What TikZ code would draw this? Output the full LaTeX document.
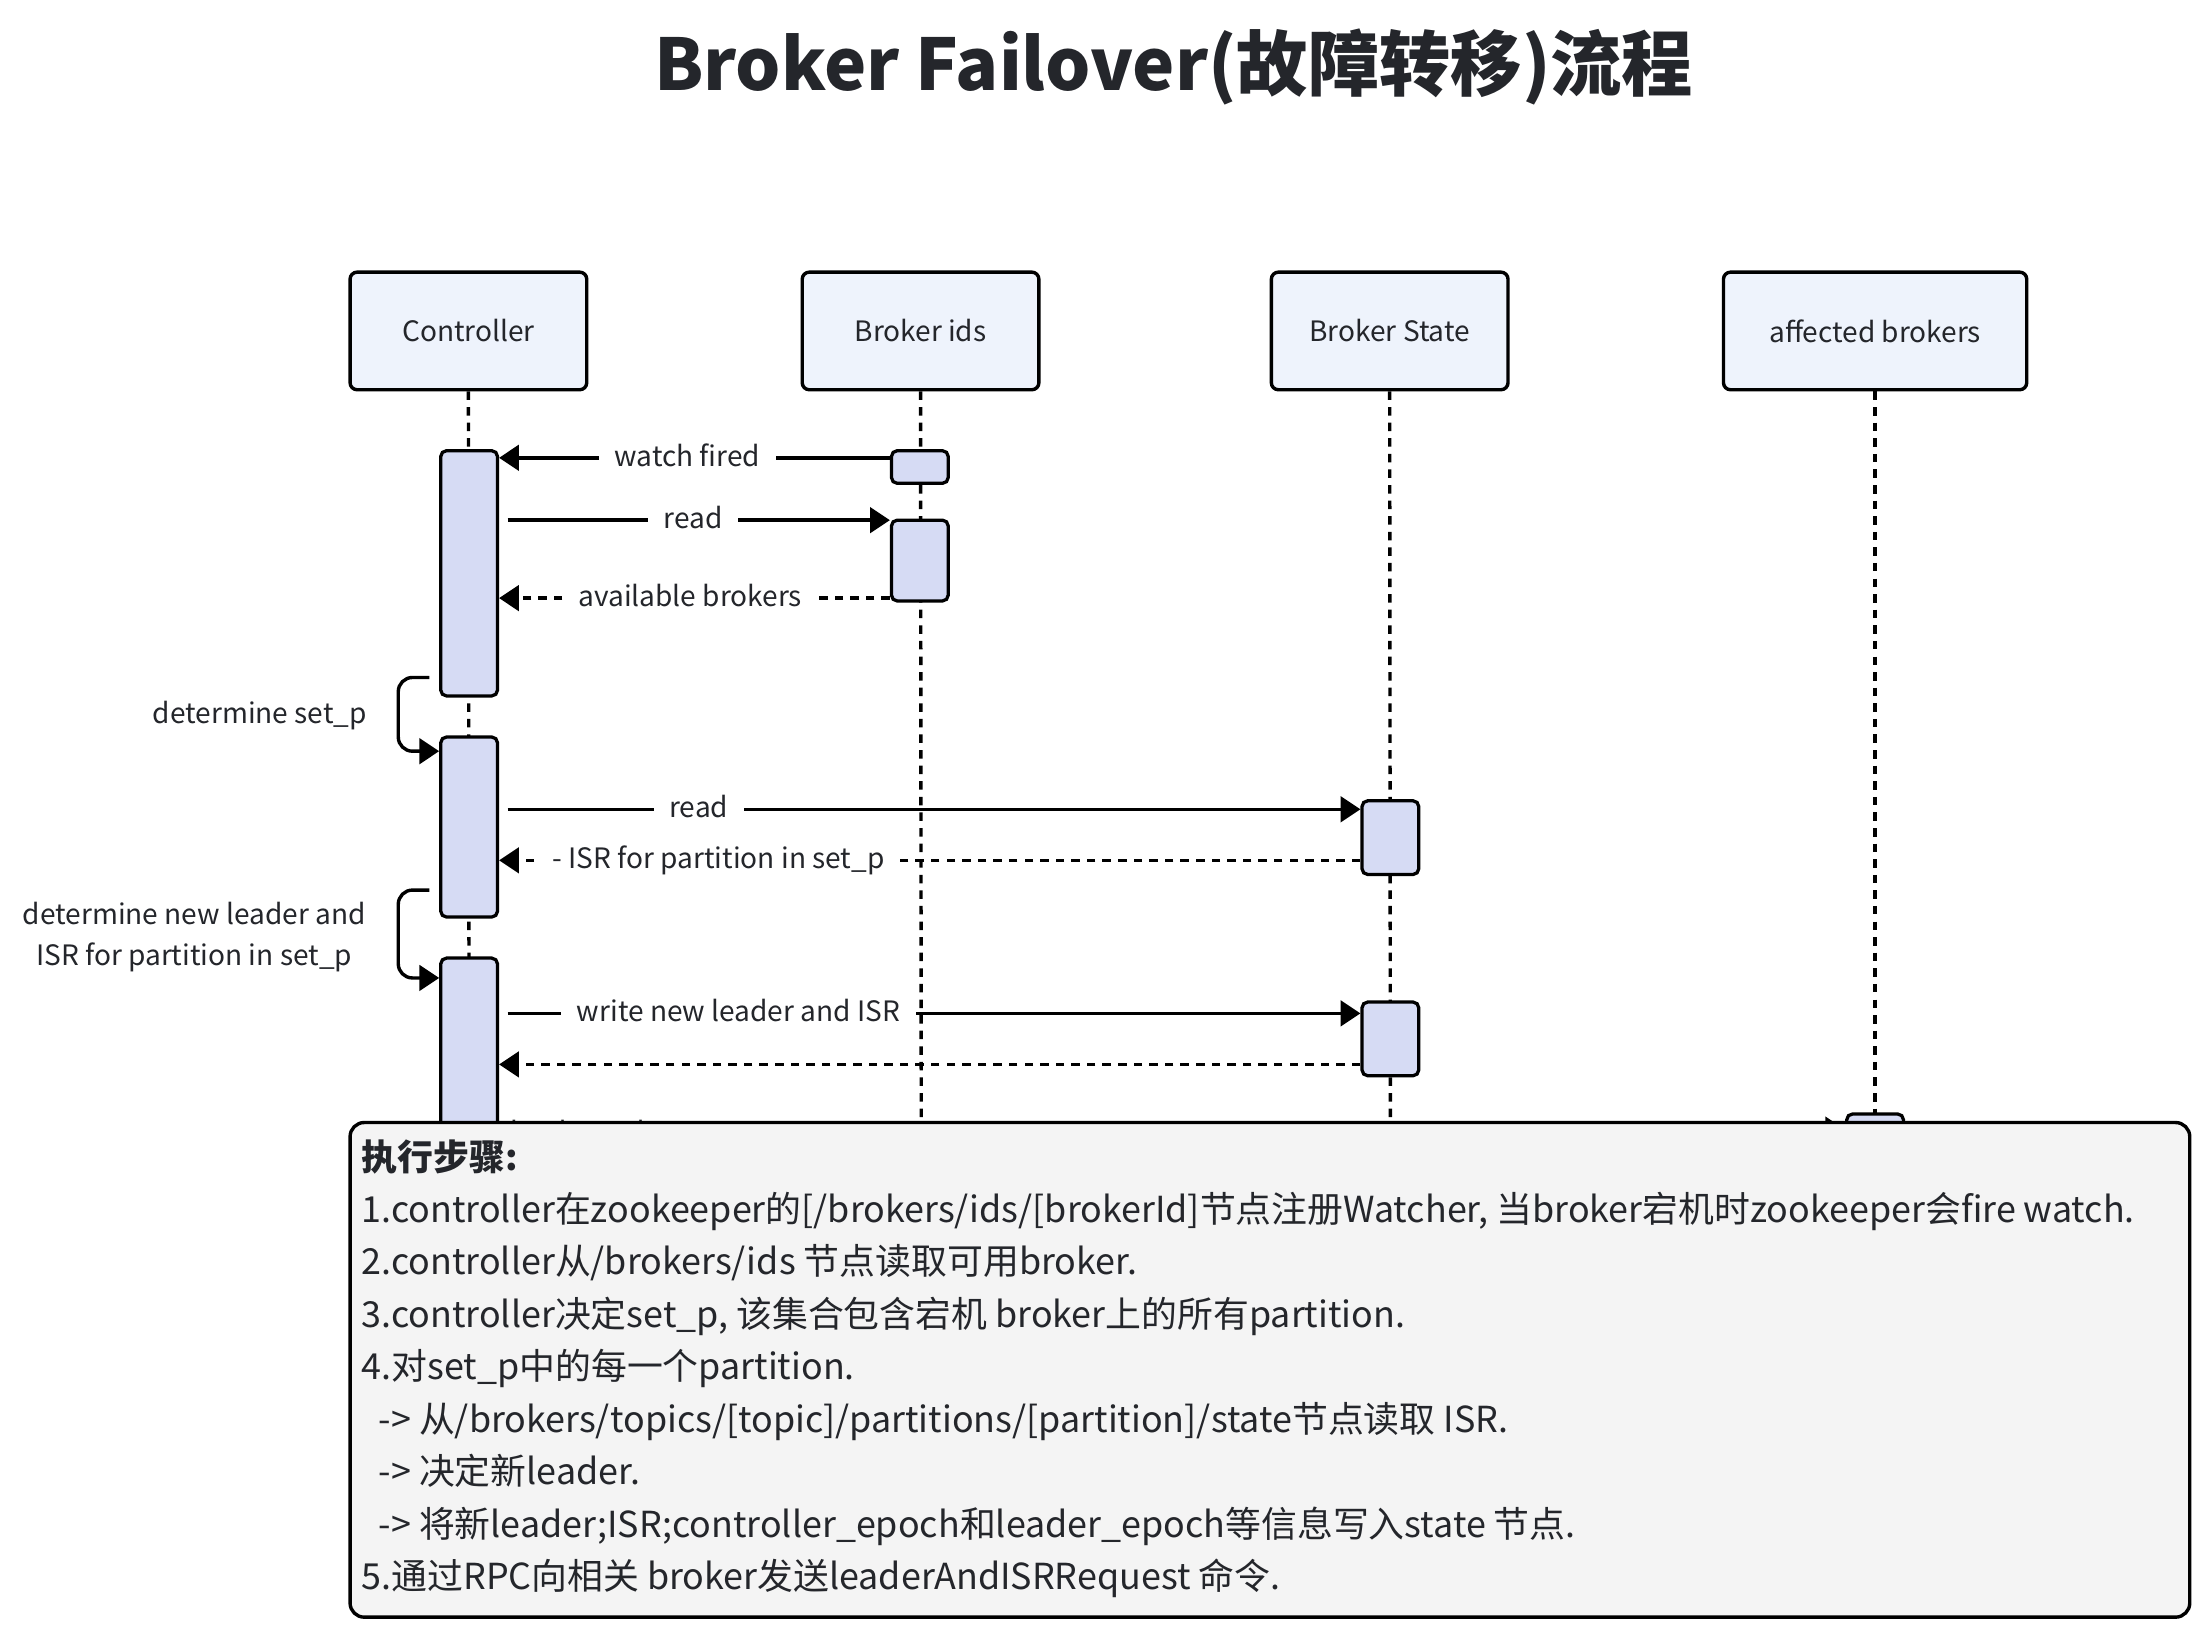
\documentclass[tikz,border=0pt]{standalone}
\usepackage{fontspec}
\setmainfont{Noto Sans CJK SC}
\usetikzlibrary{arrows.meta}
\definecolor{txt}{HTML}{24262B}
\definecolor{headfill}{HTML}{EEF3FC}
\definecolor{actfill}{HTML}{D6DBF4}
\definecolor{notefill}{HTML}{F4F4F4}
\tikzset{
  head/.style={draw=black, line width=2.4pt, fill=headfill, rounded corners=5pt,
    minimum width=167pt, minimum height=83pt, inner sep=0pt,
    font=\fontsize{19.8}{24}\selectfont, text=txt},
  act/.style={draw=black, line width=2.3pt, fill=actfill, rounded corners=4pt,
    minimum width=40pt, inner sep=0pt},
  life/.style={line width=2.4pt, dash pattern=on 6pt off 5pt},
  msg/.style={line width=2.4pt, -{Triangle[length=14pt,width=18pt]}},
  ret/.style={msg, dash pattern=on 6pt off 5pt},
  lbl/.style={fill=white, inner xsep=11pt, inner ysep=2pt, text=txt, yshift=-3pt,
    font=\fontsize{19.8}{24}\selectfont, text height=0.78em, text depth=0.22em},
  side/.style={text=txt, font=\fontsize{19.8}{29}\selectfont, align=center, inner sep=0pt},
  notetxt/.style={text=txt, font=\fontsize{25.3}{37}\selectfont, inner sep=0pt, anchor=base west},
}
\begin{document}
\begin{tikzpicture}[x=1pt,y=-1pt]
\useasboundingbox (0,0) rectangle (1560,1157);
\fill[white] (0,0) rectangle (1560,1157);

% title
\node[text=txt, font=\fontsize{50.3}{58}\selectfont\bfseries] (title) at (828,47) {Broker Failover(故障转移)流程};

% heads
\node[head] (hc) at (330.5,233.5) {Controller};
\node[head] (hb) at (649.5,233.5) {Broker ids};
\node[head] (hs) at (980.5,233.5) {Broker State};
\node[head, minimum width=214pt] (ha) at (1323,233.5) {affected brokers};

% lifelines
\coordinate (lc) at (331,800);
\coordinate (lb) at (650,800);
\coordinate (ls) at (981,800);
\coordinate (la) at (1323,800);
\draw[life] (hc.south) -- (lc);
\draw[life] (hb.south) -- (lb);
\draw[life] (hs.south) -- (ls);
\draw[life] (ha.south) -- (la);

% activations
\node[act, minimum height=173pt] (c1) at (331,404.5) {};
\node[act, minimum height=127pt] (c2) at (331,583.5) {};
\node[act, minimum height=160pt] (c3) at (331,756) {};
\node[act, minimum height=23pt] (b1) at (649,329.5) {};
\node[act, minimum height=57pt] (b2) at (649,395.5) {};
\node[act, minimum height=52pt] (s1) at (981,591) {};
\node[act, minimum height=52pt] (s2) at (981,733) {};
\node[act, minimum height=60pt] (a1) at (1323,816) {};

% messages
\draw[msg] (b1.west |- 0,323) -- (c1.east |- 0,323);
\node[lbl] at (485,323) {watch fired};

\draw[msg] ([xshift=6pt]c1.east |- 0,367) -- (b2.west |- 0,367);
\node[lbl] at (489,367) {read};

\draw[ret] (b2.west |- 0,422) -- (c1.east |- 0,422);
\node[lbl] at (487,422) {available brokers};

\coordinate (sp1) at (303,478);
\draw[msg, rounded corners=10pt] (sp1) -- (281,478) -- (281,530) -- (c2.west |- 0,530);
\node[side, anchor=east] at (259,505) {determine set\_p};

\draw[msg] ([xshift=6pt]c2.east |- 0,571) -- (s1.west |- 0,571);
\node[lbl] at (493,571) {read};

\draw[ret] (s1.west |- 0,607) -- (c2.east |- 0,607);
\node[lbl] at (507,607) {- ISR for partition in set\_p};

\coordinate (sp2) at (303,628);
\draw[msg, rounded corners=10pt] (sp2) -- (281,628) -- (281,690) -- (c3.west |- 0,690);
\node[side] at (137,661) {determine new leader and\\ISR for partition in set\_p};

\draw[msg] ([xshift=6pt]c3.east |- 0,715) -- (s2.west |- 0,715);
\node[lbl] at (521,715) {write new leader and ISR};

\draw[ret] (s2.west |- 0,751) -- (c3.east |- 0,751);

\draw[msg] ([xshift=6pt]c3.east |- 0,797) -- (a1.west |- 0,797);
\node[lbl] at (460,800) {leaderAndISRRequest};

% note
\draw[line width=2.4pt, fill=notefill, rounded corners=10pt] (247,792) rectangle (1545,1141);
\node[notetxt, font=\fontsize{25.3}{37}\selectfont\bfseries] at (255,825.5) {执行步骤:};
\node[notetxt] at (255,862.5) {1.controller在zookeeper的[/brokers/ids/[brokerId]节点注册Watcher, 当broker宕机时zookeeper会fire watch.};
\node[notetxt] at (255,899.5) {2.controller从/brokers/ids 节点读取可用broker.};
\node[notetxt] at (255,936.5) {3.controller决定set\_p, 该集合包含宕机 broker上的所有partition.};
\node[notetxt] at (255,973.5) {4.对set\_p中的每一个partition.};
\node[notetxt] at (267,1010.5) {-> 从/brokers/topics/[topic]/partitions/[partition]/state节点读取 ISR.};
\node[notetxt] at (267,1047.5) {-> 决定新leader.};
\node[notetxt] at (267,1084.5) {-> 将新leader;ISR;controller\_epoch和leader\_epoch等信息写入state 节点.};
\node[notetxt] at (255,1121.5) {5.通过RPC向相关 broker发送leaderAndISRRequest 命令.};
\end{tikzpicture}
\end{document}
